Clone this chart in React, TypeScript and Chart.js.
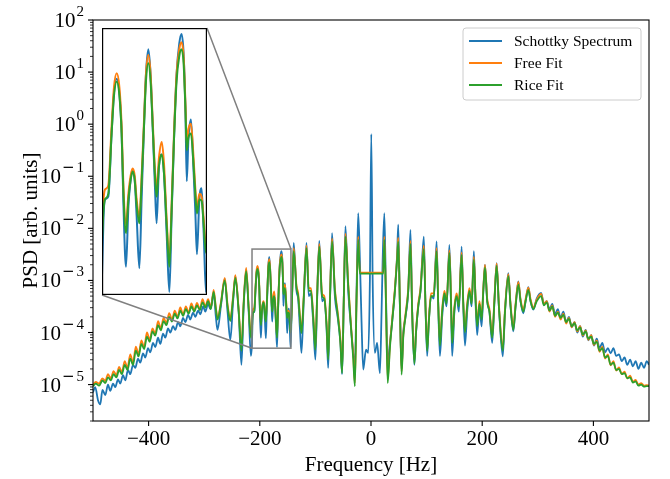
import React, { useEffect, useRef } from "react";
import { Chart, registerables } from "chart.js";

Chart.register(...registerables);

// ---------------- data: log10(PSD) ----------------
// Schottky spectrum, left part
const specHzA = [
  -500, -496, -491, -487, -483, -478, -473, -469, -464, -460,
  -455, -451, -446, -442, -437, -433, -428, -424, -419, -415,
  -410, -406, -401, -397, -392, -388, -383, -379, -374, -370,
  -365, -361, -356, -352, -347, -343, -338, -334, -329, -325,
  -320, -316, -311, -307, -302, -298, -293, -289, -283, -279,
  -276, -270, -263, -258, -253, -248, -244, -238, -233, -229,
  -224.5, -220,
];
const specLogA = [
  -5.15, -5.05, -5.30, -5.38, -5.10, -5.20, -5.00, -5.12, -4.98, -5.05,
  -4.90, -4.98, -4.82, -4.92, -4.72, -4.80, -4.62, -4.68, -4.50, -4.58,
  -4.40, -4.48, -4.30, -4.38, -4.20, -4.28, -4.10, -4.22, -4.02, -4.10,
  -3.92, -4.00, -3.88, -3.95, -3.80, -3.88, -3.72, -3.80, -3.66, -3.75,
  -3.62, -3.70, -3.58, -3.65, -3.50, -3.60, -3.45, -3.55, -3.25, -3.70,
  -3.95, -3.50, -2.97, -3.60, -4.14, -3.40, -2.92, -3.60, -4.62, -3.50,
  -2.79, -3.60,
];

// zoomed (inset) stretch, shared by all three curves
const detailHz = [
  -216, -214.2, -213, -212, -209.8, -207.6, -206, -204.2, -202.4, -200.9,
  -199.8, -198, -196.4, -194.9, -193.6, -192.2, -190.9, -189.1, -187.6, -186,
  -184.7, -183.1, -181.6, -180.2, -178.7, -177.6, -176, -174.2, -172.7, -170.9,
  -169.1, -167.6, -166, -164.3, -162.5, -161, -159.6, -158.3, -157.5, -156.4,
  -154.7, -153.1, -151.8, -150.7, -149.1, -147.6, -146.2, -144.7, -143, -141.5,
  -139,
];
const detailSpecLog = [
  -4.45, -4.24, -3.75, -3.62, -3.60, -3.15, -2.86, -2.76, -2.86, -3.15,
  -3.62, -4.10, -3.67, -3.48, -3.42, -3.48, -3.74, -4.11, -3.62, -3.10,
  -2.73, -2.55, -2.73, -3.10, -3.53, -3.79, -3.38, -3.30, -3.43, -3.86,
  -4.28, -3.74, -3.19, -2.73, -2.51, -2.44, -2.58, -3.03, -3.49, -3.19,
  -3.05, -3.38, -3.70, -4.01, -3.62, -3.54, -3.86, -4.28, -3.70, -3.10,
  -2.28,
];
const detailFreeLog = [
  -4.05, -3.85, -3.62, -3.55, -3.52, -3.10, -2.82, -2.72, -2.82, -3.10,
  -3.50, -3.80, -3.58, -3.45, -3.40, -3.45, -3.62, -3.75, -3.46, -3.06,
  -2.73, -2.59, -2.73, -3.06, -3.41, -3.55, -3.32, -3.21, -3.36, -3.76,
  -4.05, -3.66, -3.15, -2.73, -2.55, -2.50, -2.60, -2.96, -3.22, -3.12,
  -3.08, -3.30, -3.54, -3.68, -3.58, -3.60, -3.76, -3.95, -3.65, -3.10,
  -2.38,
];
const detailRiceLog = [
  -4.10, -3.95, -3.70, -3.62, -3.58, -3.15, -2.88, -2.78, -2.88, -3.15,
  -3.55, -3.86, -3.62, -3.48, -3.42, -3.48, -3.66, -3.79, -3.50, -3.10,
  -2.78, -2.65, -2.78, -3.10, -3.45, -3.60, -3.38, -3.30, -3.43, -3.80,
  -4.10, -3.70, -3.19, -2.78, -2.60, -2.55, -2.65, -3.00, -3.27, -3.18,
  -3.15, -3.35, -3.58, -3.72, -3.62, -3.63, -3.80, -4.00, -3.70, -3.15,
  -2.44,
];

// Schottky spectrum, right part
const specHzB = [
  -134, -131, -128, -125, -121, -116, -112, -108, -104, -100,
  -97, -93, -88, -84, -80, -77, -74, -70, -65, -60,
  -55, -52, -49, -46, -41, -36, -32, -29, -26, -23,
  -20, -17, -14, -9, -5, -2, 0.5, 3, 7, 11,
  16, 19, 21, 24, 27, 30, 34, 38, 43, 47,
  49, 52, 55, 58, 62, 67, 71, 74, 78, 81,
  85, 89, 95, 98, 101, 104, 108, 113, 118, 121,
  124, 128, 132, 136, 141, 144, 146, 150, 154, 158,
  163, 166, 169, 173, 177, 181, 185, 188, 191, 195,
  199, 202, 205, 209, 213, 218, 222, 226, 230, 237,
  241, 247, 251, 256, 260, 265, 269, 274, 278, 283,
  287, 292, 298, 306, 311, 316, 321, 326, 331, 336,
  341, 346, 351, 356, 361, 366, 371, 376, 381, 386,
  391, 396, 401, 406, 411, 416, 421, 426, 431, 436,
  441, 446, 451, 456, 461, 466, 471, 476, 481, 486,
  491, 496, 500,
];
const specLogB = [
  -3.20, -3.35, -3.90, -4.39, -3.40, -2.28, -3.30, -3.25, -3.80, -4.52,
  -3.40, -2.24, -3.40, -3.35, -3.90, -4.68, -3.50, -2.09, -3.30, -3.70,
  -4.20, -4.80, -3.40, -1.96, -3.20, -3.90, -4.40, -4.65, -3.20, -1.71,
  -2.60, -3.80, -4.71, -4.33, -4.39, -3.00, -0.19, -3.00, -4.39, -4.20,
  -4.78, -3.60, -2.60, -1.71, -3.30, -4.60, -4.20, -3.80, -3.20, -2.50,
  -1.93, -3.50, -4.70, -4.00, -3.70, -3.20, -2.03, -3.60, -4.62, -4.00,
  -3.50, -3.20, -2.16, -3.50, -4.45, -3.80, -3.30, -3.35, -2.25, -3.50,
  -4.45, -3.70, -3.30, -3.50, -2.32, -3.50, -4.45, -3.60, -3.30, -3.60,
  -2.35, -3.50, -4.25, -3.60, -3.20, -3.50, -2.44, -3.40, -4.05, -3.50,
  -3.88, -3.20, -2.70, -3.40, -3.60, -4.20, -3.40, -2.67, -3.50, -4.46,
  -3.60, -2.86, -3.50, -3.98, -3.50, -3.02, -3.40, -3.63, -3.40, -3.13,
  -3.40, -3.56, -3.35, -3.24, -3.45, -3.40, -3.55, -3.45, -3.65, -3.55,
  -3.72, -3.60, -3.80, -3.70, -3.90, -3.80, -4.00, -3.88, -4.08, -3.95,
  -4.15, -4.05, -4.25, -4.12, -4.30, -4.20, -4.38, -4.30, -4.40, -4.30,
  -4.45, -4.42, -4.55, -4.48, -4.62, -4.52, -4.65, -4.55, -4.70, -4.58,
  -4.68, -4.55, -4.62,
];

// fits, left part
const fitHzA = [
  -500, -495, -489, -483, -478, -473, -468, -463, -458, -453,
  -448, -443, -438, -433, -428, -423, -418, -413, -408, -403,
  -398, -393, -388, -383, -378, -373, -368, -363, -358, -353,
  -348, -343, -338, -333, -328, -323, -318, -313, -308, -303,
  -298, -293, -288, -283, -279, -276, -270, -263, -258, -253,
  -248, -244, -238, -233, -229, -224.5, -220,
];
const freeLogA = [
  -5.00, -4.95, -4.98, -4.88, -4.93, -4.80, -4.88, -4.74, -4.82, -4.66,
  -4.76, -4.55, -4.68, -4.42, -4.58, -4.27, -4.42, -4.15, -4.28, -4.00,
  -4.14, -3.92, -4.02, -3.78, -3.92, -3.72, -3.82, -3.63, -3.75, -3.58,
  -3.70, -3.52, -3.65, -3.50, -3.62, -3.44, -3.57, -3.43, -3.55, -3.36,
  -3.50, -3.36, -3.52, -3.18, -3.52, -3.72, -3.42, -2.95, -3.46, -3.72,
  -3.30, -2.90, -3.55, -4.28, -3.40, -2.76, -3.50,
];
const riceLogA = [
  -5.03, -4.98, -5.02, -4.92, -4.97, -4.86, -4.92, -4.80, -4.86, -4.72,
  -4.80, -4.62, -4.72, -4.50, -4.62, -4.35, -4.46, -4.22, -4.32, -4.08,
  -4.18, -3.98, -4.06, -3.86, -3.96, -3.78, -3.86, -3.70, -3.79, -3.64,
  -3.73, -3.58, -3.68, -3.55, -3.64, -3.50, -3.60, -3.48, -3.57, -3.42,
  -3.52, -3.40, -3.55, -3.22, -3.55, -3.75, -3.45, -3.00, -3.50, -3.78,
  -3.35, -2.95, -3.60, -4.35, -3.45, -2.82, -3.55,
];

// fits, right part
const fitHzB = [
  -134, -131, -128, -125, -121, -116, -112, -108, -104, -100,
  -97, -93, -88, -84, -80, -77, -74, -70, -65, -60,
  -55, -52, -49, -46, -41, -36, -32, -29, -26, -23,
  -20, 22, 24, 27, 30, 34, 38, 43, 47, 49,
  52, 55, 58, 62, 67, 71, 74, 78, 81, 85,
  89, 95, 98, 101, 104, 108, 113, 118, 121, 124,
  128, 132, 136, 141, 144, 146, 150, 154, 158, 163,
  166, 169, 173, 177, 181, 185, 188, 191, 195, 199,
  202, 205, 209, 213, 218, 222, 226, 230, 237, 241,
  247, 251, 256, 260, 265, 269, 274, 278, 283, 287,
  292, 298, 306, 311, 316, 321, 326, 331, 336, 341,
  346, 351, 356, 361, 366, 371, 376, 381, 386, 391,
  396, 401, 406, 411, 416, 421, 426, 431, 436, 441,
  446, 451, 456, 461, 466, 471, 476, 481, 486, 491,
  496, 500,
];
const freeLogB = [
  -3.10, -3.25, -3.65, -3.96, -3.30, -2.33, -3.15, -3.15, -3.65, -4.28,
  -3.30, -2.30, -3.25, -3.30, -3.80, -4.45, -3.40, -2.20, -3.15, -3.60,
  -4.12, -4.70, -3.35, -2.10, -3.05, -3.85, -4.42, -4.97, -3.35, -2.16,
  -2.85, -2.85, -2.16, -3.45, -4.90, -4.25, -3.75, -3.15, -2.55, -2.18,
  -3.45, -4.75, -4.05, -3.65, -3.15, -2.24, -3.55, -4.52, -3.95, -3.45,
  -3.15, -2.33, -3.45, -4.28, -3.75, -3.25, -3.25, -2.38, -3.45, -4.18,
  -3.55, -3.20, -3.40, -2.42, -3.40, -4.14, -3.50, -3.25, -3.45, -2.46,
  -3.40, -3.95, -3.45, -3.15, -3.40, -2.55, -3.30, -3.82, -3.40, -3.70,
  -3.15, -2.70, -3.35, -3.55, -4.05, -3.35, -2.68, -3.45, -4.30, -3.55,
  -2.88, -3.45, -3.90, -3.45, -3.03, -3.36, -3.56, -3.36, -3.14, -3.36,
  -3.52, -3.37, -3.26, -3.45, -3.40, -3.60, -3.48, -3.70, -3.60, -3.75,
  -3.64, -3.83, -3.72, -3.90, -3.80, -3.98, -3.88, -4.06, -3.96, -4.14,
  -4.05, -4.24, -4.15, -4.37, -4.27, -4.50, -4.42, -4.63, -4.55, -4.73,
  -4.67, -4.80, -4.75, -4.88, -4.83, -4.95, -4.91, -5.00, -4.97, -5.02,
  -5.01, -5.02,
];
const riceLogB = [
  -3.15, -3.30, -3.70, -4.01, -3.35, -2.38, -3.20, -3.20, -3.70, -4.33,
  -3.35, -2.35, -3.30, -3.35, -3.85, -4.52, -3.45, -2.25, -3.20, -3.65,
  -4.20, -4.78, -3.40, -2.16, -3.10, -3.90, -4.50, -5.03, -3.40, -2.22,
  -2.87, -2.87, -2.22, -3.50, -4.97, -4.30, -3.80, -3.20, -2.60, -2.25,
  -3.50, -4.81, -4.10, -3.70, -3.20, -2.30, -3.60, -4.60, -4.00, -3.50,
  -3.20, -2.40, -3.50, -4.35, -3.80, -3.30, -3.30, -2.44, -3.50, -4.25,
  -3.60, -3.25, -3.45, -2.47, -3.45, -4.20, -3.55, -3.30, -3.50, -2.51,
  -3.45, -4.00, -3.50, -3.20, -3.45, -2.60, -3.35, -3.88, -3.45, -3.75,
  -3.20, -2.75, -3.40, -3.60, -4.10, -3.40, -2.72, -3.50, -4.35, -3.60,
  -2.92, -3.50, -3.95, -3.50, -3.08, -3.40, -3.60, -3.40, -3.18, -3.40,
  -3.55, -3.40, -3.30, -3.48, -3.42, -3.58, -3.50, -3.68, -3.62, -3.72,
  -3.66, -3.80, -3.74, -3.88, -3.82, -3.96, -3.90, -4.04, -3.98, -4.12,
  -4.08, -4.22, -4.18, -4.35, -4.30, -4.48, -4.45, -4.62, -4.58, -4.72,
  -4.70, -4.80, -4.78, -4.88, -4.86, -4.96, -4.94, -5.02, -5.00, -5.04,
  -5.03, -5.03,
];

const seriesNames = ["Schottky Spectrum", "Free Fit", "Rice Fit"];
const seriesColors = ["#1f77b4", "#ff7f0e", "#2ca02c"];
const xTicks = [-400, -200, 0, 200, 400];
const yTickExponents = [-5, -4, -3, -2, -1, 0, 1, 2];
const xRange = [-500, 500];
const yRange = [2e-6, 100];
const zoomX = [-214, -144];
const zoomY = [5e-5, 4e-3];

// ---------------- layout ----------------
const W = 670;
const H = 479;
const PAD = { left: 93, top: 20, right: 21, bottom: 58 };
const INSET = { left: 102, top: 28, width: 105, height: 267 };
const SERIF = "'Liberation Serif', 'Times New Roman', Times, serif";

function points(xs: number[], logs: number[]) {
  const n = Math.min(xs.length, logs.length);
  const out: { x: number; y: number }[] = [];
  for (let i = 0; i < n; i++) out.push({ x: xs[i], y: Math.pow(10, logs[i]) });
  return out;
}

function makeDatasets(lw: number) {
  const base = {
    borderWidth: lw,
    pointRadius: 0,
    pointHoverRadius: 0,
    cubicInterpolationMode: "monotone",
    fill: false,
  };
  const spec = [
    ...points(specHzA, specLogA),
    ...points(detailHz, detailSpecLog),
    ...points(specHzB, specLogB),
  ];
  const free = [
    ...points(fitHzA, freeLogA),
    ...points(detailHz, detailFreeLog),
    ...points(fitHzB, freeLogB),
  ];
  const rice = [
    ...points(fitHzA, riceLogA),
    ...points(detailHz, detailRiceLog),
    ...points(fitHzB, riceLogB),
  ];
  return [
    { ...base, label: seriesNames[0], data: spec, borderColor: seriesColors[0], backgroundColor: seriesColors[0], order: 3 },
    { ...base, label: seriesNames[1], data: free, borderColor: seriesColors[1], backgroundColor: seriesColors[1], order: 2 },
    { ...base, label: seriesNames[2], data: rice, borderColor: seriesColors[2], backgroundColor: seriesColors[2], order: 1 },
  ];
}

const whiteBg = {
  id: "whiteBg",
  beforeDraw(chart: any) {
    const ctx = chart.ctx;
    ctx.save();
    ctx.fillStyle = "#ffffff";
    ctx.fillRect(0, 0, chart.width, chart.height);
    ctx.restore();
  },
};

function hline(ctx: CanvasRenderingContext2D, x0: number, x1: number, y: number) {
  ctx.beginPath();
  ctx.moveTo(x0, y);
  ctx.lineTo(x1, y);
  ctx.stroke();
}

const mainDecor = {
  id: "mainDecor",
  afterDraw(chart: any) {
    const ctx: CanvasRenderingContext2D = chart.ctx;
    const a = chart.chartArea;
    const sx = chart.scales.x;
    const sy = chart.scales.y;
    ctx.save();

    // zoom box + connectors
    const zx0 = sx.getPixelForValue(zoomX[0]);
    const zx1 = sx.getPixelForValue(zoomX[1]);
    const zyTop = sy.getPixelForValue(zoomY[1]);
    const zyBot = sy.getPixelForValue(zoomY[0]);
    ctx.strokeStyle = "#808080";
    ctx.lineWidth = 1.5;
    ctx.strokeRect(zx0, zyTop, zx1 - zx0, zyBot - zyTop);
    ctx.beginPath();
    ctx.moveTo(INSET.left + INSET.width, INSET.top);
    ctx.lineTo(zx1, zyTop);
    ctx.moveTo(INSET.left, INSET.top + INSET.height);
    ctx.lineTo(zx0, zyBot);
    ctx.stroke();

    // frame
    ctx.strokeStyle = "#000000";
    ctx.lineWidth = 1.1;
    ctx.strokeRect(a.left, a.top, a.right - a.left, a.bottom - a.top);

    // x ticks + labels
    ctx.fillStyle = "#000000";
    ctx.font = `21px ${SERIF}`;
    ctx.textAlign = "center";
    ctx.textBaseline = "alphabetic";
    for (const v of xTicks) {
      const px = sx.getPixelForValue(v);
      ctx.beginPath();
      ctx.moveTo(px, a.bottom);
      ctx.lineTo(px, a.bottom + 5);
      ctx.stroke();
      ctx.fillText(v < 0 ? "\u2212" + Math.abs(v) : String(v), px, a.bottom + 24);
    }

    // y minor ticks
    ctx.lineWidth = 0.8;
    for (let e = -6; e <= 2; e++) {
      for (let m = 2; m <= 9; m++) {
        const val = m * Math.pow(10, e);
        if (val < yRange[0] * 0.999 || val > yRange[1]) continue;
        const py = sy.getPixelForValue(val);
        hline(ctx, a.left - 3, a.left, py);
      }
    }
    // y major ticks + labels (10 with superscript exponent)
    ctx.lineWidth = 1.1;
    const R = 84;
    for (const e of yTickExponents) {
      const py = sy.getPixelForValue(Math.pow(10, e));
      hline(ctx, a.left - 5, a.left, py);
      ctx.textAlign = "left";
      ctx.textBaseline = "alphabetic";
      const digit = String(Math.abs(e));
      ctx.font = `15px ${SERIF}`;
      const dw = ctx.measureText(digit).width;
      let expLeft = R - dw;
      ctx.fillText(digit, expLeft, py - 4);
      if (e < 0) {
        ctx.font = `15px 'DejaVu Sans', sans-serif`;
        const mw = ctx.measureText("\u2212").width;
        expLeft = expLeft - 2 - mw;
        ctx.fillText("\u2212", expLeft, py - 4);
      }
      ctx.font = `21px ${SERIF}`;
      const bw = ctx.measureText("10").width;
      ctx.fillText("10", expLeft - 1 - bw, py + 7);
    }

    // axis titles
    ctx.font = `21px ${SERIF}`;
    ctx.textAlign = "center";
    ctx.textBaseline = "alphabetic";
    ctx.fillText("Frequency [Hz]", (a.left + a.right) / 2, 471);
    ctx.save();
    ctx.translate(37, (a.top + a.bottom) / 2);
    ctx.rotate(-Math.PI / 2);
    ctx.fillText("PSD [arb. units]", 0, 0);
    ctx.restore();

    // legend
    const lx = 463, ly = 28, lw = 178, lh = 72, r = 3;
    ctx.beginPath();
    ctx.moveTo(lx + r, ly);
    ctx.lineTo(lx + lw - r, ly);
    ctx.arcTo(lx + lw, ly, lx + lw, ly + r, r);
    ctx.lineTo(lx + lw, ly + lh - r);
    ctx.arcTo(lx + lw, ly + lh, lx + lw - r, ly + lh, r);
    ctx.lineTo(lx + r, ly + lh);
    ctx.arcTo(lx, ly + lh, lx, ly + lh - r, r);
    ctx.lineTo(lx, ly + r);
    ctx.arcTo(lx, ly, lx + r, ly, r);
    ctx.closePath();
    ctx.fillStyle = "rgba(255,255,255,0.8)";
    ctx.fill();
    ctx.strokeStyle = "#cccccc";
    ctx.lineWidth = 1;
    ctx.stroke();
    const rows = [41, 63, 85];
    ctx.font = `15.5px ${SERIF}`;
    ctx.textAlign = "left";
    ctx.textBaseline = "middle";
    for (let i = 0; i < seriesNames.length; i++) {
      ctx.strokeStyle = seriesColors[i];
      ctx.lineWidth = 2;
      hline(ctx, 469, 502, rows[i]);
      ctx.fillStyle = "#000000";
      ctx.fillText(seriesNames[i], 514, rows[i] + 1);
    }
    ctx.restore();
  },
};

const insetDecor = {
  id: "insetDecor",
  afterDraw(chart: any) {
    const ctx: CanvasRenderingContext2D = chart.ctx;
    ctx.save();
    ctx.strokeStyle = "#000000";
    ctx.lineWidth = 1.2;
    ctx.strokeRect(0.6, 0.6, chart.width - 1.2, chart.height - 1.2);
    ctx.restore();
  },
};

export default function App() {
  const mainRef = useRef<HTMLCanvasElement>(null);
  const insetRef = useRef<HTMLCanvasElement>(null);

  useEffect(() => {
    const main = new Chart(mainRef.current as HTMLCanvasElement, {
      type: "line",
      data: { datasets: makeDatasets(1.8) as any },
      options: {
        animation: false,
        responsive: false,
        maintainAspectRatio: false,
        devicePixelRatio: 1,
        events: [],
        layout: { padding: PAD },
        scales: {
          x: { type: "linear", min: xRange[0], max: xRange[1], display: false },
          y: { type: "logarithmic", min: yRange[0], max: yRange[1], display: false },
        },
        plugins: { legend: { display: false }, tooltip: { enabled: false } },
      } as any,
      plugins: [whiteBg, mainDecor],
    });
    const inset = new Chart(insetRef.current as HTMLCanvasElement, {
      type: "line",
      data: { datasets: makeDatasets(2) as any },
      options: {
        animation: false,
        responsive: false,
        maintainAspectRatio: false,
        devicePixelRatio: 1,
        events: [],
        layout: { padding: 0 },
        scales: {
          x: { type: "linear", min: zoomX[0], max: zoomX[1], display: false },
          y: { type: "logarithmic", min: zoomY[0], max: zoomY[1], display: false },
        },
        plugins: { legend: { display: false }, tooltip: { enabled: false } },
      } as any,
      plugins: [whiteBg, insetDecor],
    });
    return () => {
      main.destroy();
      inset.destroy();
    };
  }, []);

  return (
    <div style={{ position: "absolute", left: 0, top: 0, width: W, height: H, background: "#ffffff" }}>
      <canvas ref={mainRef} width={W} height={H} style={{ position: "absolute", left: 0, top: 0 }} />
      <canvas
        ref={insetRef}
        width={INSET.width}
        height={INSET.height}
        style={{ position: "absolute", left: INSET.left, top: INSET.top }}
      />
    </div>
  );
}
